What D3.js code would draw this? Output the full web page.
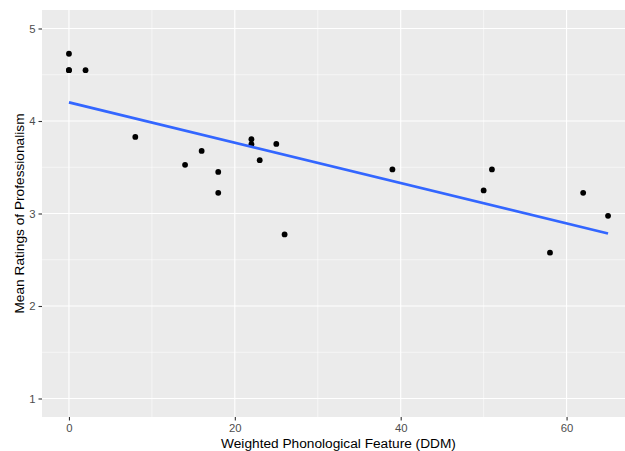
<!DOCTYPE html>
<html>
<head>
<meta charset="utf-8">
<script src="https://cdn.jsdelivr.net/npm/d3@7"></script>
<style>
  body { margin: 0; background: #fff; }
</style>
</head>
<body>
<div id="chart"></div>
<script>
// weighted phonological feature (DDM) per speaker
var ddm = [0, 0, 0, 2, 8, 14, 16, 18, 18, 22, 22, 23, 25, 26, 39, 50, 51, 58, 62, 65];
// mean ratings of professionalism
var rating = [4.727, 4.55, 4.55, 4.55, 3.828, 3.526, 3.677, 3.45, 3.223, 3.803, 3.749,
              3.576, 3.752, 2.774, 3.476, 3.249, 3.476, 2.576, 3.223, 2.975];
var xTicks = [0, 20, 40, 60];
var xMinor = [10, 30, 50];
var yTicks = [1, 2, 3, 4, 5];
var yMinor = [1.5, 2.5, 3.5, 4.5];

var width = 625, height = 451;
var margin = {top: 10, right: -10, bottom: 34, left: 42};

var svg = d3.select('#chart').append('svg')
    .attr('width', width)
    .attr('height', height)
    .style('font-family', '"Liberation Sans", Arial, sans-serif');

// ggplot style 5% expansion
var x = d3.scaleLinear()
    .domain([-3.25, 68.25])
    .range([margin.left, width - margin.right]);
var y = d3.scaleLinear()
    .domain([0.8, 5.2])
    .range([height - margin.bottom, margin.top]);

var panel = svg.append('g');

panel.append('rect')
    .attr('x', margin.left)
    .attr('y', margin.top)
    .attr('width', x.range()[1] - margin.left)
    .attr('height', y.range()[0] - margin.top)
    .attr('fill', '#EBEBEB');

// minor grid
panel.selectAll('.xminor').data(xMinor).enter().append('line')
    .attr('x1', d => x(d)).attr('x2', d => x(d))
    .attr('y1', y.range()[1]).attr('y2', y.range()[0])
    .attr('stroke', '#fff').attr('stroke-width', 0.55);
panel.selectAll('.yminor').data(yMinor).enter().append('line')
    .attr('x1', x.range()[0]).attr('x2', x.range()[1])
    .attr('y1', d => y(d)).attr('y2', d => y(d))
    .attr('stroke', '#fff').attr('stroke-width', 0.55);

// major grid
panel.selectAll('.xmajor').data(xTicks).enter().append('line')
    .attr('x1', d => x(d)).attr('x2', d => x(d))
    .attr('y1', y.range()[1]).attr('y2', y.range()[0])
    .attr('stroke', '#fff').attr('stroke-width', 1.1);
panel.selectAll('.ymajor').data(yTicks).enter().append('line')
    .attr('x1', x.range()[0]).attr('x2', x.range()[1])
    .attr('y1', d => y(d)).attr('y2', d => y(d))
    .attr('stroke', '#fff').attr('stroke-width', 1.1);

// linear fit (lm)
var mx = d3.mean(ddm), my = d3.mean(rating);
var sxy = d3.sum(ddm, (d, i) => (d - mx) * (rating[i] - my));
var sxx = d3.sum(ddm, d => (d - mx) * (d - mx));
var slope = sxy / sxx, intercept = my - slope * mx;
var xExt = d3.extent(ddm);

// points
panel.selectAll('circle').data(ddm).enter().append('circle')
    .attr('cx', d => x(d))
    .attr('cy', (d, i) => y(rating[i]))
    .attr('r', 2.9)
    .attr('fill', '#000');

panel.append('line')
    .attr('x1', x(xExt[0])).attr('y1', y(intercept + slope * xExt[0]))
    .attr('x2', x(xExt[1])).attr('y2', y(intercept + slope * xExt[1]))
    .attr('stroke', '#3366FF')
    .attr('stroke-width', 2.8);

// axes
var xAxis = svg.append('g')
    .attr('transform', 'translate(0,' + y.range()[0] + ')')
    .call(d3.axisBottom(x).tickValues(xTicks).tickFormat(d3.format('d')).tickSize(3.5).tickPadding(3));
var yAxis = svg.append('g')
    .attr('transform', 'translate(' + margin.left + ',0)')
    .call(d3.axisLeft(y).tickValues(yTicks).tickFormat(d3.format('d')).tickSize(3.5).tickPadding(3));

[xAxis, yAxis].forEach(function(a) {
    a.select('.domain').remove();
    a.selectAll('.tick line').attr('stroke', '#333333').attr('stroke-width', 1.1);
    a.selectAll('.tick text')
        .attr('fill', '#4D4D4D')
        .style('font-size', '11.3px')
        .style('font-family', '"Liberation Sans", Arial, sans-serif');
});

svg.append('text')
    .attr('x', (margin.left + x.range()[1]) / 2)
    .attr('y', 447.5)
    .attr('text-anchor', 'middle')
    .attr('font-size', '13.7px')
    .attr('fill', '#000')
    .text('Weighted Phonological Feature (DDM)');

svg.append('text')
    .attr('transform', 'translate(23.7,' + (y.range()[0] + y.range()[1]) / 2 + ') rotate(-90)')
    .attr('text-anchor', 'middle')
    .attr('font-size', '13.7px')
    .attr('fill', '#000')
    .text('Mean Ratings of Professionalism');
</script>
</body>
</html>
